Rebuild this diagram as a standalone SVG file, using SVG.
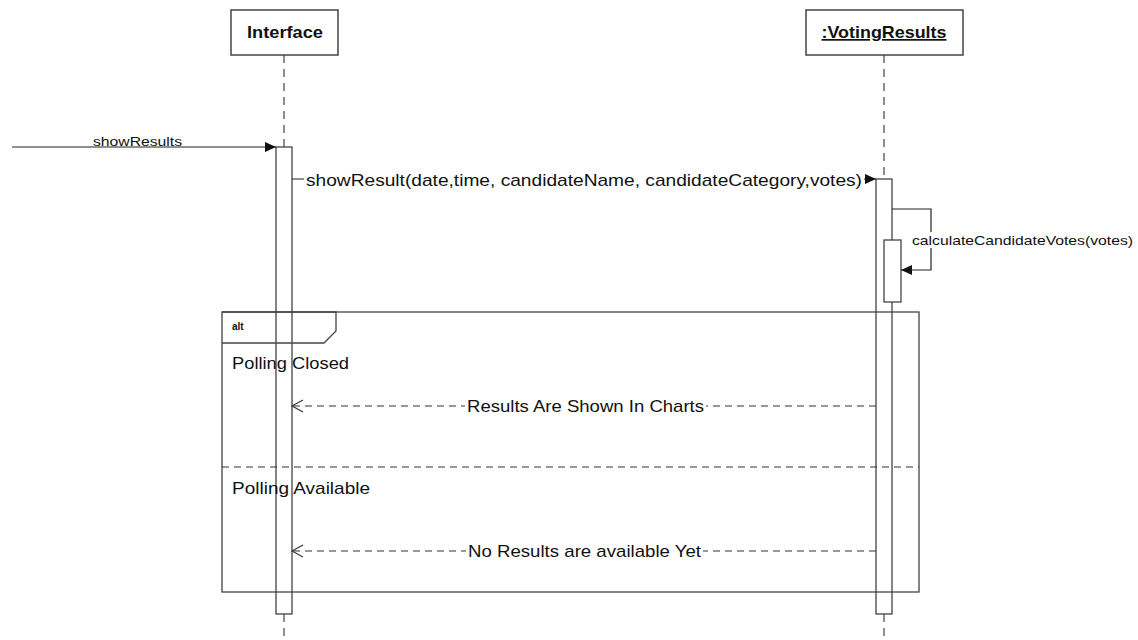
<svg xmlns="http://www.w3.org/2000/svg" width="1138" height="640" viewBox="0 0 1138 640">
  <defs>
    <style>
      .box { fill: #fff; stroke: #444; stroke-width: 1.5; }
      .life { stroke: #444; stroke-width: 1.2; stroke-dasharray: 8 6; fill: none; }
      .act { fill: #fff; stroke: #444; stroke-width: 1.3; }
      .msg { stroke: #222; stroke-width: 1.2; fill: none; }
      .ret { stroke: #333; stroke-width: 1.2; stroke-dasharray: 7 5; fill: none; }
      .frame { fill: none; stroke: #444; stroke-width: 1.3; }
      .head { font-family: "Liberation Sans", Arial, sans-serif; font-weight: bold; font-size: 17px; fill: #111; text-anchor: middle; }
      .lbl { font-family: "Liberation Sans", Arial, sans-serif; fill: #111; }
    </style>
    <marker id="filled" markerWidth="12" markerHeight="12" refX="11" refY="6" orient="auto" markerUnits="userSpaceOnUse">
      <path d="M0,1 L11,6 L0,11 Z" fill="#111"/>
    </marker>
    <marker id="open" markerWidth="14" markerHeight="14" refX="12" refY="7" orient="auto" markerUnits="userSpaceOnUse">
      <path d="M1,1 L12,7 L1,13" fill="none" stroke="#333" stroke-width="1.1"/>
    </marker>
  </defs>

  <!-- lifelines -->
  <g id="lifelines">
    <line class="life" x1="284" y1="55" x2="284" y2="147"/>
    <line class="life" x1="284" y1="614" x2="284" y2="640"/>
    <line class="life" x1="884" y1="55" x2="884" y2="179"/>
    <line class="life" x1="884" y1="614" x2="884" y2="640"/>
  </g>

  <!-- participants -->
  <g id="interface">
    <rect class="box" x="231" y="10" width="107" height="45"/>
    <text class="head" x="285" y="38" textLength="76" lengthAdjust="spacingAndGlyphs">Interface</text>
    <rect class="act" x="276" y="147" width="16" height="467"/>
  </g>
  <g id="votingResults">
    <rect class="box" x="806" y="10" width="157" height="45"/>
    <text class="head" x="884" y="38" text-decoration="underline" textLength="125" lengthAdjust="spacingAndGlyphs">:VotingResults</text>
    <rect class="act" x="876" y="179" width="16" height="435"/>
    <rect class="act" x="884" y="240" width="17" height="62"/>
  </g>

  <!-- combined fragment -->
  <g id="altFragment">
    <rect class="frame" x="222" y="312" width="697" height="280"/>
    <path class="frame" d="M222,312 L336,312 L336,331 L324,343 L222,343"/>
    <text class="lbl" x="232" y="330" font-size="10" font-weight="bold">alt</text>
    <text class="lbl" x="232" y="369" font-size="17" textLength="117" lengthAdjust="spacingAndGlyphs">Polling Closed</text>
    <line class="ret" x1="222" y1="467" x2="919" y2="467"/>
    <text class="lbl" x="232" y="494" font-size="17" textLength="138" lengthAdjust="spacingAndGlyphs">Polling Available</text>
  </g>

  <!-- messages -->
  <g id="connectors">
    <line class="msg" x1="12" y1="147" x2="276" y2="147" marker-end="url(#filled)"/>
    <rect x="92" y="135" width="92" height="11" fill="#fff"/>
    <text class="lbl" x="93" y="146" font-size="13" textLength="89" lengthAdjust="spacingAndGlyphs">showResults</text>

    <line class="msg" x1="292" y1="179" x2="876" y2="179" marker-end="url(#filled)"/>
    <rect x="304" y="168" width="560" height="20" fill="#fff"/>
    <text class="lbl" x="306" y="186" font-size="17" textLength="556" lengthAdjust="spacingAndGlyphs">showResult(date,time, candidateName, candidateCategory,votes)</text>

    <path class="msg" d="M892,209 L931,209 L931,270 L901,270" marker-end="url(#filled)"/>
    <rect x="910" y="232" width="224" height="16" fill="#fff"/>
    <text class="lbl" x="912" y="245" font-size="13" textLength="221" lengthAdjust="spacingAndGlyphs">calculateCandidateVotes(votes)</text>

    <line class="ret" x1="876" y1="406" x2="292" y2="406" marker-end="url(#open)"/>
    <rect x="465" y="396" width="241" height="20" fill="#fff"/>
    <text class="lbl" x="467" y="412" font-size="17" textLength="237" lengthAdjust="spacingAndGlyphs">Results Are Shown In Charts</text>

    <line class="ret" x1="876" y1="551" x2="292" y2="551" marker-end="url(#open)"/>
    <rect x="466" y="541" width="237" height="20" fill="#fff"/>
    <text class="lbl" x="468" y="557" font-size="17" textLength="233" lengthAdjust="spacingAndGlyphs">No Results are available Yet</text>
  </g>
</svg>
